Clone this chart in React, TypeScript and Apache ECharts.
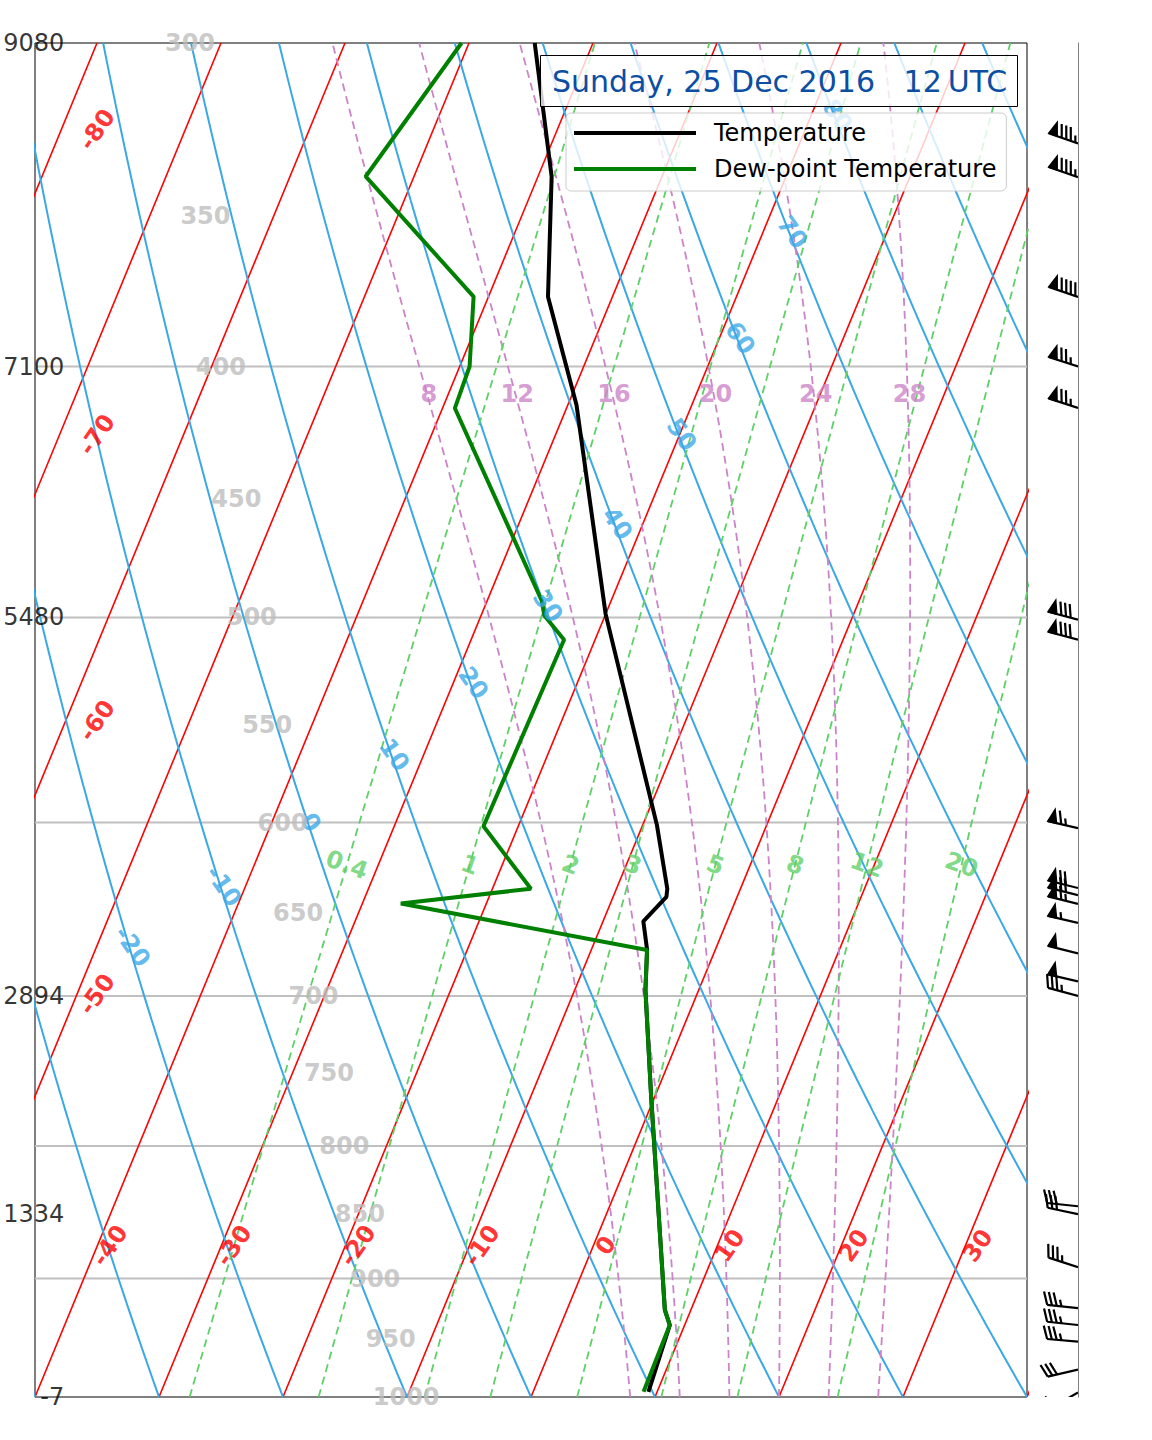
import React, { useEffect, useRef } from "react";
import * as echarts from "echarts";

// ---------------- data ----------------
const isotherms = [-120, -110, -100, -90, -80, -70, -60, -50, -40, -30, -20, -10, 0, 10, 20, 30, 40];
const isothermLabels = [-80, -70, -60, -50, -40, -30, -20, -10, 0, 10, 20, 30];
const dryAdiabats = [-40, -30, -20, -10, 0, 10, 20, 30, 40, 50, 60, 70, 80, 90, 100, 110, 120];
const dryAdiabatLabels = [-20, -10, 0, 10, 20, 30, 40, 50, 60, 70, 80];
const moistAdiabats = [8, 12, 16, 20, 24, 28];
const mixingRatios = [0.4, 1, 2, 3, 5, 8, 12, 20];
const gridPressures = [400, 500, 600, 700, 800, 900];
const pressureLabels = [300, 350, 400, 450, 500, 550, 600, 650, 700, 750, 800, 850, 900, 950, 1000];
const heightLevels = [300, 400, 500, 700, 850, 1000];
const heightLabels = ["9080", "7100", "5480", "2894", "1334", "-7"];

const tempP = [995.5, 938, 925.5, 765.5, 696.3, 671.9, 655.1, 641, 636.4, 601.4, 498.5, 413.9, 375.9, 337.8, 300];
const tempC = [9.3, 8.8, 7.9, -0.3, -4.3, -5.5, -6.75, -5.7, -5.9, -8.85, -20.0, -29.3, -35.2, -38.9, -44.7];
const dewP = [995.3, 938, 925.5, 765.5, 696.3, 672, 644.8, 636.4, 602, 510, 499.1, 492.6, 415.1, 400, 375.9, 337.8, 300];
const dewC = [8.9, 8.8, 7.9, -0.3, -4.3, -5.5, -26.9, -16.9, -22.8, -22.5, -24.9, -25.6, -39.0, -39.2, -41.2, -53.9, -50.6];

const windP = [328, 338, 376, 400, 415, 501, 510, 603, 636, 640, 645, 656, 674, 691, 700, 844, 850, 891, 924, 938, 952, 976, 996];
const windDir = [289, 289, 289, 288, 288, 285, 285, 283, 284, 284, 284, 283, 284, 283, 285, 276, 282, 288, 276, 276, 275, 257, 240];
const windSpd = [85, 85, 90, 75, 75, 80, 80, 65, 70, 70, 65, 55, 50, 50, 35, 30, 30, 35, 35, 35, 35, 30, 25];

const titleText = "Sunday, 25 Dec 2016\u00a0\u00a0\u00a012\u2009UTC";

// ---------------- layout / style constants ----------------
const FONT = "'DejaVu Sans', sans-serif";
const P_BOT = 1000;
const P_TOP = 300;
const SKEW = 45;
const LN_RANGE = Math.log(P_BOT / P_TOP);
const leftIsoLabelP = [324, 425, 548, 699];
const leftIsoLabelX = -35;
const bottomIsoLabelP = 874;
const bottomIsoLabelDx = 1.0;
const moistLabelP = 410;
const moistLabelDx = 0.15;
const mixLabelP = 623;
const heightLabelX = -37.6;
const LABEL_SIZE = 24;

const RED = "#ff0000";
const BLUE = "#3ba8e6";
const GREEN = "#5fd068";
const PINK = "#cc84c8";
const GRAY = "#c0c0c0";

// ---------------- thermodynamics ----------------
const R_D = 287.04749;
const CP_D = 1004.666;
const LV = 2.50084e6;
const EPS = 0.6219569;
const KAPPA = R_D / CP_D;

const skewX = (T: number, p: number) => T + (SKEW * Math.log(P_BOT / p)) / LN_RANGE;
const satVap = (Tc: number) => 6.112 * Math.exp((17.67 * Tc) / (Tc + 243.5));
const dewFromVap = (e: number) => {
  const l = Math.log(e / 6.112);
  return (243.5 * l) / (17.67 - l);
};
const dryT = (thetaC: number, p: number) => (thetaC + 273.15) * Math.pow(p / 1000, KAPPA) - 273.15;
const mixTd = (wgkg: number, p: number) => dewFromVap((p * wgkg) / (1000 * EPS + wgkg));
const moistLapse = (TK: number, p: number) => {
  const es = satVap(TK - 273.15);
  const rs = (EPS * es) / (p - es);
  return ((1 / p) * (R_D * TK + LV * rs)) / (CP_D + (LV * LV * rs * EPS) / (R_D * TK * TK));
};

const pList: number[] = [];
for (let p = P_BOT; p >= P_TOP - 1e-6; p -= 5) pList.push(p);

const moistCurve = (t0: number) => {
  const out: number[][] = [];
  let T = t0 + 273.15;
  let p = P_BOT;
  out.push([T - 273.15, p]);
  const h = -5;
  while (p > P_TOP + 1e-6) {
    const k1 = moistLapse(T, p);
    const k2 = moistLapse(T + (h / 2) * k1, p + h / 2);
    const k3 = moistLapse(T + (h / 2) * k2, p + h / 2);
    const k4 = moistLapse(T + h * k3, p + h);
    T += (h / 6) * (k1 + 2 * k2 + 2 * k3 + k4);
    p += h;
    out.push([T - 273.15, p]);
  }
  return out; // [T C, p]
};

// ---------------- series builders ----------------
const lineSeries = (data: number[][], color: string, width: number, dashed: boolean, z = 2, name?: string) => ({
  type: "line",
  name,
  xAxisIndex: 0,
  yAxisIndex: 0,
  data,
  symbol: "none",
  showSymbol: false,
  silent: true,
  clip: true,
  z,
  lineStyle: { color, width, type: dashed ? [8, 5] : "solid" },
  itemStyle: { color },
});

const labelSeries = (
  items: { x: number; p: number; text: string }[],
  color: string,
  fontSize: number,
  bold: boolean,
  rotate: number,
  position: any = "inside",
  z = 10
) => ({
  type: "scatter",
  xAxisIndex: 0,
  yAxisIndex: 0,
  silent: true,
  clip: false,
  z,
  symbol: "circle",
  symbolSize: 1,
  itemStyle: { color: "rgba(0,0,0,0)" },
  data: items.map((it) => ({ value: [it.x, it.p], name: it.text })),
  label: {
    show: true,
    formatter: "{b}",
    position,
    distance: 0,
    rotate,
    color,
    fontSize,
    fontWeight: bold ? "bold" : "normal",
    fontFamily: FONT,
    align: position === "left" ? "right" : "center",
    verticalAlign: "middle",
  },
});

const renderBarb = (params: any, api: any) => {
  const p = api.value(1);
  const dir = (api.value(2) * Math.PI) / 180;
  const spd = api.value(3);
  const base = api.coord([1, p]);
  const L = 31;
  const fh = 13;
  const fw = 9;
  const sp = 4.8;
  const sx = Math.sin(dir);
  const sy = -Math.cos(dir);
  const nx = -sy;
  const ny = sx;
  const pt = (d: number, h: number) => [base[0] + sx * d + nx * h, base[1] + sy * d + ny * h];
  let r = Math.round(spd / 5) * 5;
  const nFlags = Math.floor(r / 50);
  r -= nFlags * 50;
  const nBarbs = Math.floor(r / 10);
  r -= nBarbs * 10;
  const half = r >= 5;
  const children: any[] = [];
  children.push({
    type: "polyline",
    shape: { points: [pt(0, 0), pt(L, 0)] },
    style: { stroke: "#000", lineWidth: 2.2, fill: null },
  });
  let off = L;
  for (let i = 0; i < nFlags; i++) {
    if (off !== L) off += sp / 2;
    children.push({
      type: "polygon",
      shape: { points: [pt(off, 0), pt(off - fw / 2, fh), pt(off - fw, 0)] },
      style: { fill: "#000", stroke: "#000", lineWidth: 1.5 },
    });
    off -= fw + sp;
  }
  for (let i = 0; i < nBarbs; i++) {
    children.push({
      type: "polyline",
      shape: { points: [pt(off, 0), pt(off + fw / 2, fh)] },
      style: { stroke: "#000", lineWidth: 2.2, fill: null },
    });
    off -= sp;
  }
  if (half) {
    if (off === L) off -= 1.5 * sp;
    children.push({
      type: "polyline",
      shape: { points: [pt(off, 0), pt(off + fw / 4, fh / 2)] },
      style: { stroke: "#000", lineWidth: 2.2, fill: null },
    });
  }
  return { type: "group", children };
};

function buildOption() {
  const series: any[] = [];

  isotherms.forEach((T) => series.push(lineSeries([[skewX(T, P_BOT), P_BOT], [skewX(T, P_TOP), P_TOP]], RED, 1.6, false)));
  dryAdiabats.forEach((th) => series.push(lineSeries(pList.map((p) => [skewX(dryT(th, p), p), p]), BLUE, 2, false)));
  const moistData = moistAdiabats.map((t0) => moistCurve(t0));
  moistData.forEach((curve) => series.push(lineSeries(curve.map(([T, p]) => [skewX(T, p), p]), PINK, 1.8, true)));
  mixingRatios.forEach((w) => series.push(lineSeries(pList.map((p) => [skewX(mixTd(w, p), p), p]), GREEN, 1.8, true)));
  gridPressures.forEach((p) => series.push(lineSeries([[-40, p], [40, p]], GRAY, 2, false, 1)));

  series.push(lineSeries(tempP.map((p, i) => [skewX(tempC[i], p), p]), "#000000", 4, false, 6, "Temperature"));
  series.push(lineSeries(dewP.map((p, i) => [skewX(dewC[i], p), p]), "#008000", 4, false, 6, "Dew-point Temperature"));

  // labels
  const isoItems = isothermLabels.map((T, i) => {
    if (i < leftIsoLabelP.length) return { x: leftIsoLabelX, p: leftIsoLabelP[i], text: String(T) };
    return { x: skewX(T, bottomIsoLabelP) + bottomIsoLabelDx, p: bottomIsoLabelP, text: String(T) };
  });
  series.push(labelSeries(isoItems, RED, LABEL_SIZE, true, 55));

  const dryItems = dryAdiabatLabels.map((th) => {
    const p = 600 - 3.5 * th;
    return { x: skewX(dryT(th, p), p) + 0.25, p, text: String(th) };
  });
  series.push(labelSeries(dryItems, BLUE, LABEL_SIZE, true, -55));

  const moistItems = moistAdiabats.map((t0, i) => {
    const pt = moistData[i].find(([, p]) => Math.abs(p - moistLabelP) < 0.01) || moistData[i][0];
    return { x: skewX(pt[0], pt[1]) + moistLabelDx, p: pt[1], text: String(t0) };
  });
  series.push(labelSeries(moistItems, PINK, LABEL_SIZE, true, 0));

  const mixItems = mixingRatios.map((w) => ({ x: skewX(mixTd(w, mixLabelP), mixLabelP), p: mixLabelP, text: String(w) }));
  series.push(labelSeries(mixItems, GREEN, LABEL_SIZE, true, -20));

  const presItems = pressureLabels.map((p) => ({ x: -27.5 + 0.0249 * (p - 300), p, text: String(p) }));
  series.push(labelSeries(presItems, "#bdbdbd", 24, true, 0));

  const heightItems = heightLevels.map((p, i) => ({ x: heightLabelX, p, text: heightLabels[i] }));
  series.push(labelSeries(heightItems, "#000000", 24, false, 0, "left", 11));

  // wind barbs
  series.push({
    type: "custom",
    xAxisIndex: 1,
    yAxisIndex: 1,
    clip: true,
    silent: true,
    data: windP.map((p, i) => [1, p, windDir[i], windSpd[i]]),
    renderItem: renderBarb,
    z: 5,
  });

  return {
    animation: false,
    backgroundColor: "#ffffff",
    textStyle: { fontFamily: FONT },
    title: {
      text: titleText,
      left: 540,
      top: 55,
      padding: [9, 11, 9, 12],
      backgroundColor: "rgba(255,255,255,0.8)",
      borderColor: "#000000",
      borderWidth: 1,
      textStyle: { fontSize: 30, fontWeight: "normal", color: "#0b4ea2", fontFamily: FONT, lineHeight: 34 },
      z: 20,
    },
    legend: {
      data: ["Temperature", "Dew-point Temperature"],
      orient: "vertical",
      left: 566,
      top: 113,
      icon: "rect",
      itemWidth: 122,
      itemHeight: 4,
      itemGap: 8,
      padding: [6, 10, 8, 8],
      backgroundColor: "rgba(255,255,255,0.8)",
      borderColor: "#cccccc",
      borderWidth: 1,
      borderRadius: 5,
      selectedMode: false,
      textStyle: { fontSize: 24, color: "#000000", fontFamily: FONT, lineHeight: 28, padding: [0, 0, 0, 13] },
      z: 20,
    },
    grid: [
      { left: 35, top: 43, width: 992, height: 1354, show: true, borderColor: "#000000", borderWidth: 1, backgroundColor: "transparent" },
      { left: 1036, top: 43, width: 42, height: 1354, show: false },
    ],
    xAxis: [
      { type: "value", gridIndex: 0, min: -40, max: 40, show: false },
      { type: "value", gridIndex: 1, min: 0, max: 1, show: false },
    ],
    yAxis: [
      { type: "log", gridIndex: 0, min: P_TOP, max: P_BOT, inverse: true, show: false },
      {
        type: "log",
        gridIndex: 1,
        min: P_TOP,
        max: P_BOT,
        inverse: true,
        position: "right",
        axisLine: { show: true, onZero: false, lineStyle: { color: "#808080", width: 1 } },
        axisTick: { show: false },
        axisLabel: { show: false },
        splitLine: { show: false },
      },
    ],
    series,
  };
}

export default function App() {
  const ref = useRef<HTMLDivElement>(null);
  useEffect(() => {
    const chart = echarts.init(ref.current as HTMLDivElement, null, { renderer: "svg" });
    chart.setOption(buildOption() as any);
    return () => chart.dispose();
  }, []);
  return <div ref={ref} style={{ position: "absolute", left: 0, top: 0, width: 1152, height: 1440 }} />;
}
